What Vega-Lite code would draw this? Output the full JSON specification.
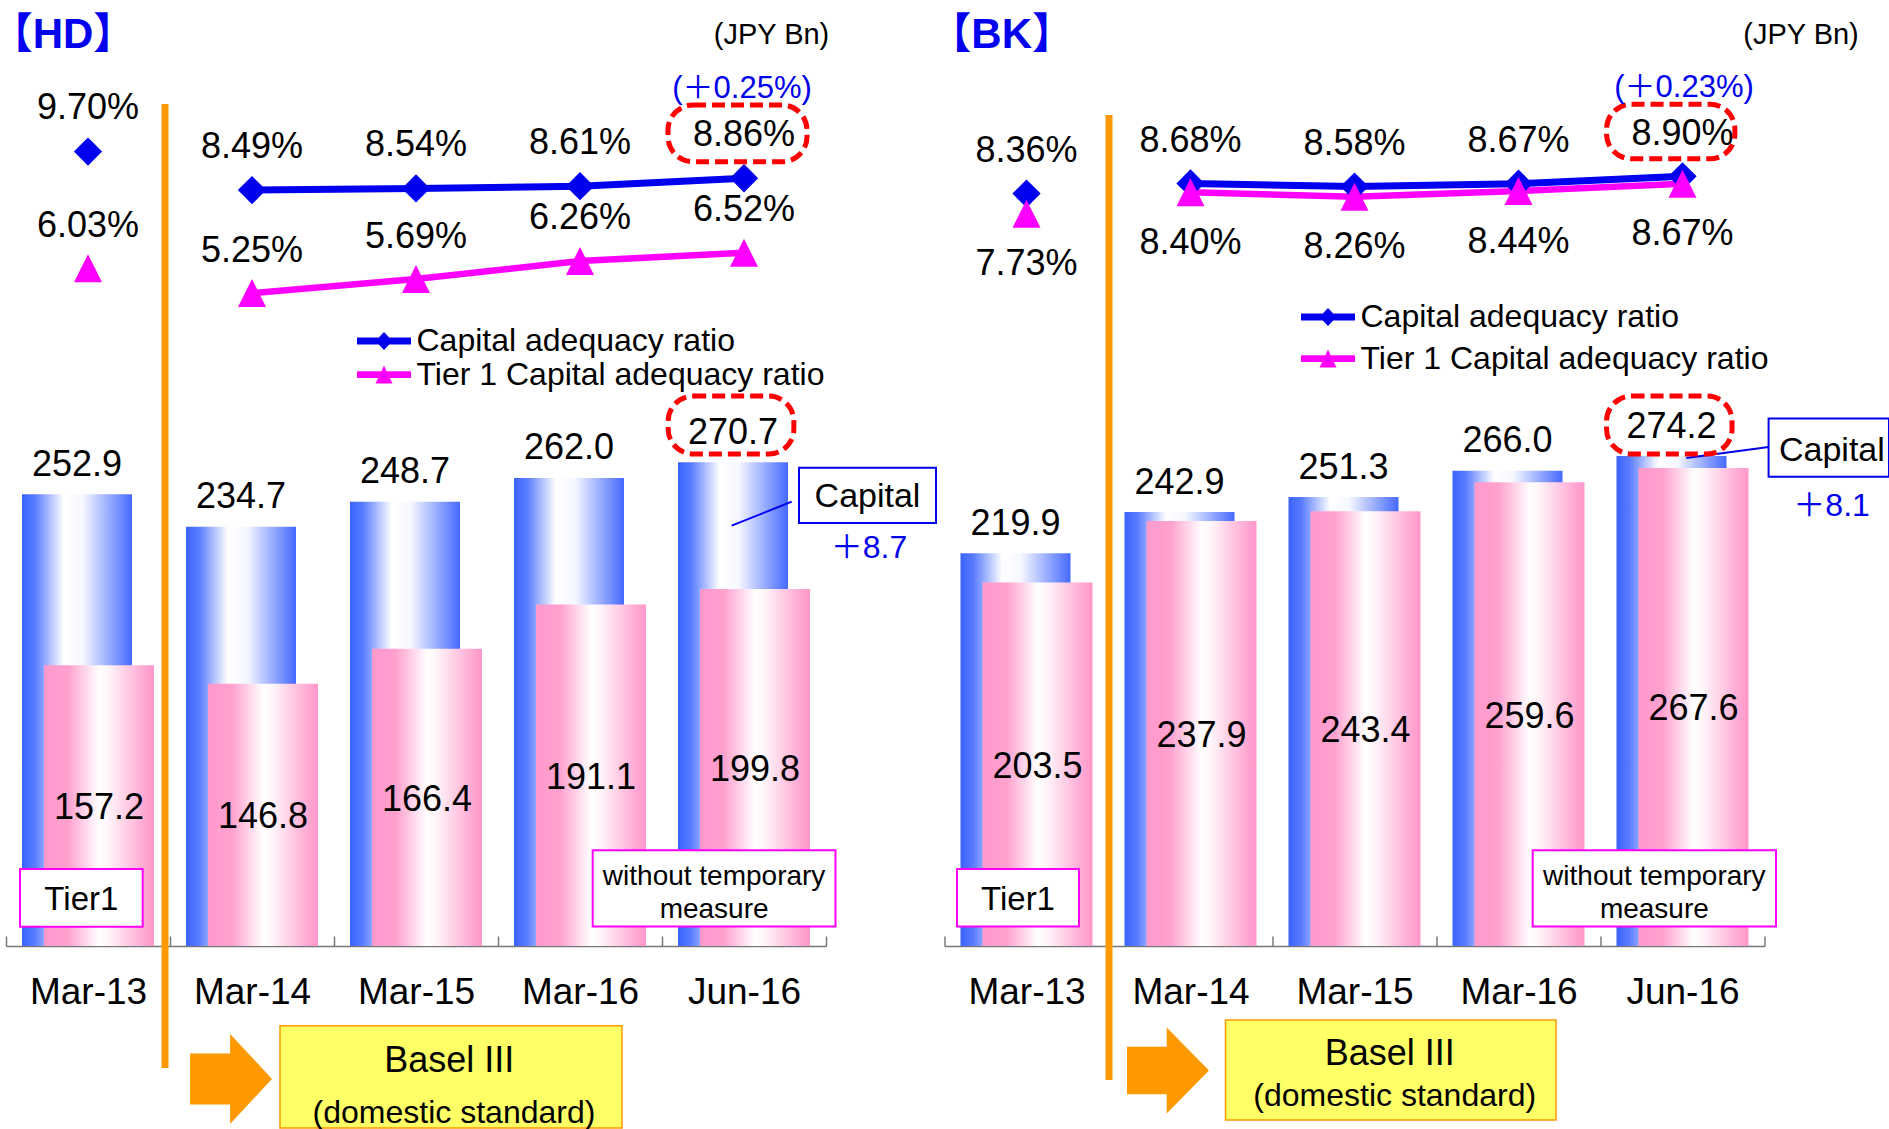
{
  "$schema": "https://vega.github.io/schema/vega-lite/v6.json",
  "padding": {"left": 5, "top": 0, "right": 0, "bottom": 0},
  "bounds": "flush",
  "spacing": 118.5,
  "config": {
    "font": "Liberation Sans, Noto Sans CJK JP, sans-serif",
    "view": {"stroke": null},
    "text": {"color": "#000000", "fontSize": 36, "baseline": "middle", "dy": 2.5},
    "axisX": {"labelAngle": 0, "labelFontSize": 37, "labelColor": "#000000", "labelPadding": 56.5, "labelBaseline": "middle", "domainColor": "#777777", "domainWidth": 1.5, "tickColor": "#777777", "tickWidth": 1.5, "tickSize": -10, "tickBand": "extent", "grid": false}
  },
  "datasets": {
    "hd_bars": [
      {"period": "Mar-13", "capital": 252.9, "tier1": 157.2},
      {"period": "Mar-14", "capital": 234.7, "tier1": 146.8},
      {"period": "Mar-15", "capital": 248.7, "tier1": 166.4},
      {"period": "Mar-16", "capital": 262.0, "tier1": 191.1},
      {"period": "Jun-16", "capital": 270.7, "tier1": 199.8}
    ],
    "bk_bars": [
      {"period": "Mar-13", "capital": 219.9, "tier1": 203.5},
      {"period": "Mar-14", "capital": 242.9, "tier1": 237.9},
      {"period": "Mar-15", "capital": 251.3, "tier1": 243.4},
      {"period": "Mar-16", "capital": 266.0, "tier1": 259.6},
      {"period": "Jun-16", "capital": 274.2, "tier1": 267.6}
    ],
    "hd_ratio": [
      {"period": "Mar-13", "series": "Capital adequacy ratio", "ratio": 0.0970},
      {"period": "Mar-14", "series": "Capital adequacy ratio", "ratio": 0.0849},
      {"period": "Mar-15", "series": "Capital adequacy ratio", "ratio": 0.0854},
      {"period": "Mar-16", "series": "Capital adequacy ratio", "ratio": 0.0861},
      {"period": "Jun-16", "series": "Capital adequacy ratio", "ratio": 0.0886},
      {"period": "Mar-13", "series": "Tier 1 Capital adequacy ratio", "ratio": 0.0603},
      {"period": "Mar-14", "series": "Tier 1 Capital adequacy ratio", "ratio": 0.0525},
      {"period": "Mar-15", "series": "Tier 1 Capital adequacy ratio", "ratio": 0.0569},
      {"period": "Mar-16", "series": "Tier 1 Capital adequacy ratio", "ratio": 0.0626},
      {"period": "Jun-16", "series": "Tier 1 Capital adequacy ratio", "ratio": 0.0652}
    ],
    "bk_ratio": [
      {"period": "Mar-13", "series": "Capital adequacy ratio", "ratio": 0.0836},
      {"period": "Mar-14", "series": "Capital adequacy ratio", "ratio": 0.0868},
      {"period": "Mar-15", "series": "Capital adequacy ratio", "ratio": 0.0858},
      {"period": "Mar-16", "series": "Capital adequacy ratio", "ratio": 0.0867},
      {"period": "Jun-16", "series": "Capital adequacy ratio", "ratio": 0.0890},
      {"period": "Mar-13", "series": "Tier 1 Capital adequacy ratio", "ratio": 0.0773},
      {"period": "Mar-14", "series": "Tier 1 Capital adequacy ratio", "ratio": 0.0840},
      {"period": "Mar-15", "series": "Tier 1 Capital adequacy ratio", "ratio": 0.0826},
      {"period": "Mar-16", "series": "Tier 1 Capital adequacy ratio", "ratio": 0.0844},
      {"period": "Jun-16", "series": "Tier 1 Capital adequacy ratio", "ratio": 0.0867}
    ]
  },
  "resolve": {
    "scale": {"color": "independent", "shape": "independent"},
    "legend": {"color": "independent", "shape": "independent"}
  },
  "hconcat": [
    {
      "width": 820,
      "height": 946,
      "resolve": {"scale": {"y": "independent"}},
      "layer": [
        {
          "data": {"name": "hd_bars"},
          "layer": [
            {
              "mark": {"type": "bar", "width": 110, "xOffset": -11, "fill": {"gradient": "linear", "x1": 0, "y1": 0, "x2": 1, "y2": 0, "stops": [{"offset": 0, "color": "#3a63ff"}, {"offset": 0.12, "color": "#5a7dff"}, {"offset": 0.38, "color": "#ffffff"}, {"offset": 0.55, "color": "#f6f8ff"}, {"offset": 1, "color": "#4569ff"}]}},
              "encoding": {
                "x": {"field": "period", "type": "nominal", "title": null, "scale": {"type": "band", "domain": ["Mar-13", "Mar-14", "Mar-15", "Mar-16", "Jun-16"], "paddingInner": 0, "paddingOuter": 0}},
                "y": {"field": "capital", "type": "quantitative", "scale": {"domain": [0, 529.5], "nice": false, "zero": false}, "axis": null}
              }
            },
            {
              "mark": {"type": "bar", "width": 110, "xOffset": 11, "fill": {"gradient": "linear", "x1": 0, "y1": 0, "x2": 1, "y2": 0, "stops": [{"offset": 0, "color": "#ff99cc"}, {"offset": 0.22, "color": "#ffa1cf"}, {"offset": 0.5, "color": "#ffffff"}, {"offset": 0.58, "color": "#fff6fa"}, {"offset": 0.95, "color": "#ff9fce"}, {"offset": 1, "color": "#ff99cc"}]}},
              "encoding": {
                "x": {"field": "period", "type": "nominal", "title": null},
                "y": {"field": "tier1", "type": "quantitative", "scale": {"domain": [0, 529.5], "nice": false, "zero": false}, "axis": null}
              }
            },
            {
              "mark": {"type": "text", "xOffset": -11, "dy": -29.5},
              "encoding": {
                "x": {"field": "period", "type": "nominal", "title": null},
                "y": {"field": "capital", "type": "quantitative", "scale": {"domain": [0, 529.5], "nice": false, "zero": false}, "axis": null},
                "text": {"field": "capital", "type": "quantitative", "format": ".1f"}
              }
            }
          ]
        },
        {
          "data": {"name": "hd_bars"},
          "mark": {"type": "text", "xOffset": 11},
          "encoding": {
            "x": {"field": "period", "type": "nominal", "title": null},
            "y": {"field": "tier1", "type": "quantitative", "scale": {"domain": [0, 1059], "nice": false, "zero": false}, "axis": null},
            "text": {"field": "tier1", "type": "quantitative", "format": ".1f"}
          }
        },
        {
          "data": {"name": "hd_ratio"},
          "layer": [
            {
              "transform": [{"filter": "datum.series === 'Tier 1 Capital adequacy ratio' && datum.period !== 'Mar-13'"}],
              "mark": {"type": "line", "color": "#ff00ff", "strokeWidth": 6.5},
              "encoding": {
                "x": {"field": "period", "type": "nominal", "title": null},
                "y": {"field": "ratio", "type": "quantitative", "scale": {"domain": [-0.1528, 0.14465], "nice": false, "zero": false}, "axis": null}
              }
            },
            {
              "transform": [{"filter": "datum.series === 'Capital adequacy ratio' && datum.period !== 'Mar-13'"}],
              "mark": {"type": "line", "color": "#0000ee", "strokeWidth": 7},
              "encoding": {
                "x": {"field": "period", "type": "nominal", "title": null},
                "y": {"field": "ratio", "type": "quantitative", "scale": {"domain": [-0.1528, 0.14465], "nice": false, "zero": false}, "axis": null}
              }
            },
            {
              "transform": [{"filter": "datum.series === 'Capital adequacy ratio'"}],
              "mark": {"type": "point", "shape": "diamond", "size": 800, "filled": true, "color": "#0000ee", "opacity": 1},
              "encoding": {
                "x": {"field": "period", "type": "nominal", "title": null},
                "y": {"field": "ratio", "type": "quantitative", "scale": {"domain": [-0.1528, 0.14465], "nice": false, "zero": false}, "axis": null}
              }
            },
            {
              "transform": [{"filter": "datum.series === 'Tier 1 Capital adequacy ratio'"}],
              "mark": {"type": "point", "shape": "M0,-1L1,1L-1,1Z", "size": 784, "filled": true, "color": "#ff00ff", "opacity": 1},
              "encoding": {
                "x": {"field": "period", "type": "nominal", "title": null},
                "y": {"field": "ratio", "type": "quantitative", "scale": {"domain": [-0.1528, 0.14465], "nice": false, "zero": false}, "axis": null}
              }
            },
            {
              "transform": [{"filter": "datum.series === 'Capital adequacy ratio'"}],
              "mark": {"type": "text", "dy": -43.5},
              "encoding": {
                "x": {"field": "period", "type": "nominal", "title": null},
                "y": {"field": "ratio", "type": "quantitative", "scale": {"domain": [-0.1528, 0.14465], "nice": false, "zero": false}, "axis": null},
                "text": {"field": "ratio", "type": "quantitative", "format": ".2%"}
              }
            },
            {
              "transform": [{"filter": "datum.series === 'Tier 1 Capital adequacy ratio'"}],
              "mark": {"type": "text", "dy": -42.5},
              "encoding": {
                "x": {"field": "period", "type": "nominal", "title": null},
                "y": {"field": "ratio", "type": "quantitative", "scale": {"domain": [-0.1528, 0.14465], "nice": false, "zero": false}, "axis": null},
                "text": {"field": "ratio", "type": "quantitative", "format": ".2%"}
              }
            },
            {
              "mark": {"type": "point", "filled": true, "opacity": 0},
              "encoding": {
                "x": {"field": "period", "type": "nominal", "title": null},
                "y": {"field": "ratio", "type": "quantitative", "scale": {"domain": [-0.1528, 0.14465], "nice": false, "zero": false}, "axis": null},
                "color": {"field": "series", "type": "nominal",
                  "scale": {"domain": ["Capital adequacy ratio", "Tier 1 Capital adequacy ratio"], "range": ["#0000ee", "#ff00ff"]},
                  "legend": {"title": null, "orient": "none", "legendX": 361, "legendY": 324, "padding": 0, "labelFontSize": 32, "labelColor": "#000000", "labelLimit": 800, "symbolSize": 1156, "symbolStrokeWidth": 0, "symbolOpacity": 1, "labelOffset": 15.5, "rowPadding": 0.6}},
                "shape": {"field": "series", "type": "nominal",
                  "scale": {"domain": ["Capital adequacy ratio", "Tier 1 Capital adequacy ratio"], "range": ["M-1.59,-0.2L1.59,-0.2L1.59,0.2L-1.59,0.2Z M0,-0.53L0.5,0L0,0.53L-0.5,0Z", "M-1.59,-0.2L1.59,-0.2L1.59,0.2L-1.59,0.2Z M0,-0.53L0.5,0.53L-0.5,0.53Z"]},
                  "legend": {"title": null, "orient": "none", "legendX": 361, "legendY": 324, "padding": 0, "labelFontSize": 32, "labelColor": "#000000", "labelLimit": 800, "symbolSize": 1156, "symbolStrokeWidth": 0, "symbolOpacity": 1, "labelOffset": 15.5, "rowPadding": 0.6}}
              }
            }
          ]
        },
        {
          "data": {"values": [{}]},
          "layer": [
            {
              "mark": {"type": "rule", "color": "#ff9900", "strokeWidth": 7, "xOffset": -87},
              "encoding": {
                "x": {"datum": "Mar-14", "type": "nominal", "title": null},
                "y": {"datum": 471.3, "type": "quantitative", "scale": {"domain": [0, 529.5], "nice": false, "zero": false}, "axis": null},
                "y2": {"datum": -68.3}
              }
            },
            {
              "mark": {"type": "bar", "width": 342, "xOffset": 35, "fill": "#ffff66", "stroke": "#ff9900", "strokeWidth": 1.5},
              "encoding": {
                "x": {"datum": "Mar-15", "type": "nominal", "title": null},
                "y": {"datum": -44.6, "type": "quantitative", "scale": {"domain": [0, 529.5], "nice": false, "zero": false}, "axis": null},
                "y2": {"datum": -101.9}
              }
            },
            {
              "mark": {"type": "text", "fontSize": 36, "xOffset": 33.3, "text": "Basel III"},
              "encoding": {
                "x": {"datum": "Mar-15", "type": "nominal", "title": null},
                "y": {"datum": -62.7, "type": "quantitative", "scale": {"domain": [0, 529.5], "nice": false, "zero": false}, "axis": null}
              }
            },
            {
              "mark": {"type": "text", "fontSize": 32, "xOffset": 38, "text": "(domestic standard)"},
              "encoding": {
                "x": {"datum": "Mar-15", "type": "nominal", "title": null},
                "y": {"datum": -91.8, "type": "quantitative", "scale": {"domain": [0, 529.5], "nice": false, "zero": false}, "axis": null}
              }
            },
            {
              "mark": {"type": "point", "shape": "M-0.91,-0.567L-0.02,-0.567L-0.02,-1L0.91,0L-0.02,1L-0.02,0.567L-0.91,0.567Z", "size": 8100, "filled": true, "color": "#ff9900", "opacity": 1, "xOffset": -21},
              "encoding": {
                "x": {"datum": "Mar-14", "type": "nominal", "title": null},
                "y": {"datum": -74.4, "type": "quantitative", "scale": {"domain": [0, 529.5], "nice": false, "zero": false}, "axis": null}
              }
            },
            {
              "mark": {"type": "bar", "width": 122.7, "xOffset": -6.65, "fill": "#ffffff", "stroke": "#ff00ff", "strokeWidth": 2},
              "encoding": {
                "x": {"datum": "Mar-13", "type": "nominal", "title": null},
                "y": {"datum": 43.1, "type": "quantitative", "scale": {"domain": [0, 529.5], "nice": false, "zero": false}, "axis": null},
                "y2": {"datum": 10.8}
              }
            },
            {
              "mark": {"type": "text", "fontSize": 33, "xOffset": -6.65, "text": "Tier1"},
              "encoding": {
                "x": {"datum": "Mar-13", "type": "nominal", "title": null},
                "y": {"datum": 27.0, "type": "quantitative", "scale": {"domain": [0, 529.5], "nice": false, "zero": false}, "axis": null}
              }
            },
            {
              "mark": {"type": "bar", "width": 242.8, "xOffset": -29.9, "fill": "#ffffff", "stroke": "#ff00ff", "strokeWidth": 2},
              "encoding": {
                "x": {"datum": "Jun-16", "type": "nominal", "title": null},
                "y": {"datum": 53.6, "type": "quantitative", "scale": {"domain": [0, 529.5], "nice": false, "zero": false}, "axis": null},
                "y2": {"datum": 10.9}
              }
            },
            {
              "mark": {"type": "text", "fontSize": 28, "lineHeight": 33.7, "xOffset": -29.9, "text": ["without temporary", "measure"]},
              "encoding": {
                "x": {"datum": "Jun-16", "type": "nominal", "title": null},
                "y": {"datum": 40.3, "type": "quantitative", "scale": {"domain": [0, 529.5], "nice": false, "zero": false}, "axis": null}
              }
            },
            {
              "mark": {"type": "rule", "color": "#0000ee", "strokeWidth": 2, "xOffset": -12.3, "x2Offset": 47.7},
              "encoding": {
                "x": {"datum": "Jun-16", "type": "nominal", "title": null},
                "x2": {"datum": "Jun-16"},
                "y": {"datum": 235.3, "type": "quantitative", "scale": {"domain": [0, 529.5], "nice": false, "zero": false}, "axis": null},
                "y2": {"datum": 248.7}
              }
            },
            {
              "mark": {"type": "bar", "width": 137, "xOffset": 123.5, "fill": "#ffffff", "stroke": "#0000ee", "strokeWidth": 2},
              "encoding": {
                "x": {"datum": "Jun-16", "type": "nominal", "title": null},
                "y": {"datum": 267.7, "type": "quantitative", "scale": {"domain": [0, 529.5], "nice": false, "zero": false}, "axis": null},
                "y2": {"datum": 236.8}
              }
            },
            {
              "mark": {"type": "text", "fontSize": 34, "xOffset": 123.5, "text": "Capital"},
              "encoding": {
                "x": {"datum": "Jun-16", "type": "nominal", "title": null},
                "y": {"datum": 252.7, "type": "quantitative", "scale": {"domain": [0, 529.5], "nice": false, "zero": false}, "axis": null}
              }
            },
            {
              "mark": {"type": "text", "fontSize": 32, "color": "#0000ee", "xOffset": 125, "text": "＋8.7"},
              "encoding": {
                "x": {"datum": "Jun-16", "type": "nominal", "title": null},
                "y": {"datum": 224.4, "type": "quantitative", "scale": {"domain": [0, 529.5], "nice": false, "zero": false}, "axis": null}
              }
            },
            {
              "mark": {"type": "bar", "width": 139, "xOffset": -6.5, "cornerRadius": 25, "fill": "#ffffff", "fillOpacity": 0, "stroke": "#ff0000", "strokeWidth": 5, "strokeDash": [13, 6]},
              "encoding": {
                "x": {"datum": "Jun-16", "type": "nominal", "title": null},
                "y": {"datum": 470.7, "type": "quantitative", "scale": {"domain": [0, 529.5], "nice": false, "zero": false}, "axis": null},
                "y2": {"datum": 439.0}
              }
            },
            {
              "mark": {"type": "bar", "width": 125.7, "xOffset": -13, "cornerRadius": 25, "fill": "#ffffff", "fillOpacity": 0, "stroke": "#ff0000", "strokeWidth": 5, "strokeDash": [13, 6]},
              "encoding": {
                "x": {"datum": "Jun-16", "type": "nominal", "title": null},
                "y": {"datum": 307.8, "type": "quantitative", "scale": {"domain": [0, 529.5], "nice": false, "zero": false}, "axis": null},
                "y2": {"datum": 275.4}
              }
            },
            {
              "mark": {"type": "text", "fontSize": 31, "color": "#0000ee", "xOffset": -2, "text": "(＋0.25%)"},
              "encoding": {
                "x": {"datum": "Jun-16", "type": "nominal", "title": null},
                "y": {"datum": 481.0, "type": "quantitative", "scale": {"domain": [0, 529.5], "nice": false, "zero": false}, "axis": null}
              }
            },
            {
              "mark": {"type": "text", "fontSize": 29, "xOffset": 27.5, "text": "(JPY Bn)"},
              "encoding": {
                "x": {"datum": "Jun-16", "type": "nominal", "title": null},
                "y": {"datum": 511.1, "type": "quantitative", "scale": {"domain": [0, 529.5], "nice": false, "zero": false}, "axis": null}
              }
            },
            {
              "mark": {"type": "text", "fontSize": 42, "fontWeight": "bold", "color": "#0000ee", "align": "left", "xOffset": -97.3, "clip": true, "text": "【HD】"},
              "encoding": {
                "x": {"datum": "Mar-13", "type": "nominal", "title": null},
                "y": {"datum": 511.3, "type": "quantitative", "scale": {"domain": [0, 529.5], "nice": false, "zero": false}, "axis": null}
              }
            }
          ]
        }
      ]
    },
    {
      "width": 820,
      "height": 946,
      "resolve": {"scale": {"y": "independent"}},
      "layer": [
        {
          "data": {"name": "bk_bars"},
          "layer": [
            {
              "mark": {"type": "bar", "width": 110, "xOffset": -11, "fill": {"gradient": "linear", "x1": 0, "y1": 0, "x2": 1, "y2": 0, "stops": [{"offset": 0, "color": "#3a63ff"}, {"offset": 0.12, "color": "#5a7dff"}, {"offset": 0.38, "color": "#ffffff"}, {"offset": 0.55, "color": "#f6f8ff"}, {"offset": 1, "color": "#4569ff"}]}},
              "encoding": {
                "x": {"field": "period", "type": "nominal", "title": null, "scale": {"type": "band", "domain": ["Mar-13", "Mar-14", "Mar-15", "Mar-16", "Jun-16"], "paddingInner": 0, "paddingOuter": 0}},
                "y": {"field": "capital", "type": "quantitative", "scale": {"domain": [0, 529.5], "nice": false, "zero": false}, "axis": null}
              }
            },
            {
              "mark": {"type": "bar", "width": 110, "xOffset": 11, "fill": {"gradient": "linear", "x1": 0, "y1": 0, "x2": 1, "y2": 0, "stops": [{"offset": 0, "color": "#ff99cc"}, {"offset": 0.22, "color": "#ffa1cf"}, {"offset": 0.5, "color": "#ffffff"}, {"offset": 0.58, "color": "#fff6fa"}, {"offset": 0.95, "color": "#ff9fce"}, {"offset": 1, "color": "#ff99cc"}]}},
              "encoding": {
                "x": {"field": "period", "type": "nominal", "title": null},
                "y": {"field": "tier1", "type": "quantitative", "scale": {"domain": [0, 529.5], "nice": false, "zero": false}, "axis": null}
              }
            },
            {
              "mark": {"type": "text", "xOffset": -11, "dy": -29.5},
              "encoding": {
                "x": {"field": "period", "type": "nominal", "title": null},
                "y": {"field": "capital", "type": "quantitative", "scale": {"domain": [0, 529.5], "nice": false, "zero": false}, "axis": null},
                "text": {"field": "capital", "type": "quantitative", "format": ".1f"}
              }
            }
          ]
        },
        {
          "data": {"name": "bk_bars"},
          "mark": {"type": "text", "xOffset": 11},
          "encoding": {
            "x": {"field": "period", "type": "nominal", "title": null},
            "y": {"field": "tier1", "type": "quantitative", "scale": {"domain": [0, 1059], "nice": false, "zero": false}, "axis": null},
            "text": {"field": "tier1", "type": "quantitative", "format": ".1f"}
          }
        },
        {
          "data": {"name": "bk_ratio"},
          "layer": [
            {
              "transform": [{"filter": "datum.series === 'Tier 1 Capital adequacy ratio' && datum.period !== 'Mar-13'"}],
              "mark": {"type": "line", "color": "#ff00ff", "strokeWidth": 6.5},
              "encoding": {
                "x": {"field": "period", "type": "nominal", "title": null},
                "y": {"field": "ratio", "type": "quantitative", "scale": {"domain": [-0.1515, 0.1441], "nice": false, "zero": false}, "axis": null}
              }
            },
            {
              "transform": [{"filter": "datum.series === 'Capital adequacy ratio' && datum.period !== 'Mar-13'"}],
              "mark": {"type": "line", "color": "#0000ee", "strokeWidth": 7},
              "encoding": {
                "x": {"field": "period", "type": "nominal", "title": null},
                "y": {"field": "ratio", "type": "quantitative", "scale": {"domain": [-0.1515, 0.1441], "nice": false, "zero": false}, "axis": null}
              }
            },
            {
              "transform": [{"filter": "datum.series === 'Capital adequacy ratio'"}],
              "mark": {"type": "point", "shape": "diamond", "size": 800, "filled": true, "color": "#0000ee", "opacity": 1},
              "encoding": {
                "x": {"field": "period", "type": "nominal", "title": null},
                "y": {"field": "ratio", "type": "quantitative", "scale": {"domain": [-0.1515, 0.1441], "nice": false, "zero": false}, "axis": null}
              }
            },
            {
              "transform": [{"filter": "datum.series === 'Tier 1 Capital adequacy ratio'"}],
              "mark": {"type": "point", "shape": "M0,-1L1,1L-1,1Z", "size": 784, "filled": true, "color": "#ff00ff", "opacity": 1},
              "encoding": {
                "x": {"field": "period", "type": "nominal", "title": null},
                "y": {"field": "ratio", "type": "quantitative", "scale": {"domain": [-0.1515, 0.1441], "nice": false, "zero": false}, "axis": null}
              }
            },
            {
              "transform": [{"filter": "datum.series === 'Capital adequacy ratio'"}],
              "mark": {"type": "text", "dy": -42.5},
              "encoding": {
                "x": {"field": "period", "type": "nominal", "title": null},
                "y": {"field": "ratio", "type": "quantitative", "scale": {"domain": [-0.1515, 0.1441], "nice": false, "zero": false}, "axis": null},
                "text": {"field": "ratio", "type": "quantitative", "format": ".2%"}
              }
            },
            {
              "transform": [{"filter": "datum.series === 'Tier 1 Capital adequacy ratio'"}],
              "mark": {"type": "text", "dy": 50.5},
              "encoding": {
                "x": {"field": "period", "type": "nominal", "title": null},
                "y": {"field": "ratio", "type": "quantitative", "scale": {"domain": [-0.1515, 0.1441], "nice": false, "zero": false}, "axis": null},
                "text": {"field": "ratio", "type": "quantitative", "format": ".2%"}
              }
            },
            {
              "mark": {"type": "point", "filled": true, "opacity": 0},
              "encoding": {
                "x": {"field": "period", "type": "nominal", "title": null},
                "y": {"field": "ratio", "type": "quantitative", "scale": {"domain": [-0.1515, 0.1441], "nice": false, "zero": false}, "axis": null},
                "color": {"field": "series", "type": "nominal",
                  "scale": {"domain": ["Capital adequacy ratio", "Tier 1 Capital adequacy ratio"], "range": ["#0000ee", "#ff00ff"]},
                  "legend": {"title": null, "orient": "none", "legendX": 366.5, "legendY": 300, "padding": 0, "labelFontSize": 32, "labelColor": "#000000", "labelLimit": 800, "symbolSize": 1156, "symbolStrokeWidth": 0, "symbolOpacity": 1, "labelOffset": 15.5, "rowPadding": 8.6}},
                "shape": {"field": "series", "type": "nominal",
                  "scale": {"domain": ["Capital adequacy ratio", "Tier 1 Capital adequacy ratio"], "range": ["M-1.59,-0.2L1.59,-0.2L1.59,0.2L-1.59,0.2Z M0,-0.53L0.5,0L0,0.53L-0.5,0Z", "M-1.59,-0.2L1.59,-0.2L1.59,0.2L-1.59,0.2Z M0,-0.53L0.5,0.53L-0.5,0.53Z"]},
                  "legend": {"title": null, "orient": "none", "legendX": 366.5, "legendY": 300, "padding": 0, "labelFontSize": 32, "labelColor": "#000000", "labelLimit": 800, "symbolSize": 1156, "symbolStrokeWidth": 0, "symbolOpacity": 1, "labelOffset": 15.5, "rowPadding": 8.6}}
              }
            }
          ]
        },
        {
          "data": {"values": [{}]},
          "layer": [
            {
              "mark": {"type": "rule", "color": "#ff9900", "strokeWidth": 7, "xOffset": -81.5},
              "encoding": {
                "x": {"datum": "Mar-14", "type": "nominal", "title": null},
                "y": {"datum": 465.1, "type": "quantitative", "scale": {"domain": [0, 529.5], "nice": false, "zero": false}, "axis": null},
                "y2": {"datum": -75.0}
              }
            },
            {
              "mark": {"type": "bar", "width": 330.5, "xOffset": 36.25, "fill": "#ffff66", "stroke": "#ff9900", "strokeWidth": 1.5},
              "encoding": {
                "x": {"datum": "Mar-15", "type": "nominal", "title": null},
                "y": {"datum": -41.4, "type": "quantitative", "scale": {"domain": [0, 529.5], "nice": false, "zero": false}, "axis": null},
                "y2": {"datum": -97.4}
              }
            },
            {
              "mark": {"type": "text", "fontSize": 36, "xOffset": 35.3, "text": "Basel III"},
              "encoding": {
                "x": {"datum": "Mar-15", "type": "nominal", "title": null},
                "y": {"datum": -59.3, "type": "quantitative", "scale": {"domain": [0, 529.5], "nice": false, "zero": false}, "axis": null}
              }
            },
            {
              "mark": {"type": "text", "fontSize": 32, "xOffset": 40.2, "text": "(domestic standard)"},
              "encoding": {
                "x": {"datum": "Mar-15", "type": "nominal", "title": null},
                "y": {"datum": -82.8, "type": "quantitative", "scale": {"domain": [0, 529.5], "nice": false, "zero": false}, "axis": null}
              }
            },
            {
              "mark": {"type": "point", "shape": "M-0.953,-0.553L-0.03,-0.553L-0.03,-1L0.953,0L-0.03,1L-0.03,0.553L-0.953,0.553Z", "size": 7396, "filled": true, "color": "#ff9900", "opacity": 1, "xOffset": -22.5},
              "encoding": {
                "x": {"datum": "Mar-14", "type": "nominal", "title": null},
                "y": {"datum": -69.7, "type": "quantitative", "scale": {"domain": [0, 529.5], "nice": false, "zero": false}, "axis": null}
              }
            },
            {
              "mark": {"type": "bar", "width": 122, "xOffset": -8.5, "fill": "#ffffff", "stroke": "#ff00ff", "strokeWidth": 2},
              "encoding": {
                "x": {"datum": "Mar-13", "type": "nominal", "title": null},
                "y": {"datum": 43.1, "type": "quantitative", "scale": {"domain": [0, 529.5], "nice": false, "zero": false}, "axis": null},
                "y2": {"datum": 10.9}
              }
            },
            {
              "mark": {"type": "text", "fontSize": 33, "xOffset": -8.5, "text": "Tier1"},
              "encoding": {
                "x": {"datum": "Mar-13", "type": "nominal", "title": null},
                "y": {"datum": 27.0, "type": "quantitative", "scale": {"domain": [0, 529.5], "nice": false, "zero": false}, "axis": null}
              }
            },
            {
              "mark": {"type": "bar", "width": 243.3, "xOffset": -28.15, "fill": "#ffffff", "stroke": "#ff00ff", "strokeWidth": 2},
              "encoding": {
                "x": {"datum": "Jun-16", "type": "nominal", "title": null},
                "y": {"datum": 53.6, "type": "quantitative", "scale": {"domain": [0, 529.5], "nice": false, "zero": false}, "axis": null},
                "y2": {"datum": 10.9}
              }
            },
            {
              "mark": {"type": "text", "fontSize": 28, "lineHeight": 33.7, "xOffset": -28.15, "text": ["without temporary", "measure"]},
              "encoding": {
                "x": {"datum": "Jun-16", "type": "nominal", "title": null},
                "y": {"datum": 40.3, "type": "quantitative", "scale": {"domain": [0, 529.5], "nice": false, "zero": false}, "axis": null}
              }
            },
            {
              "mark": {"type": "rule", "color": "#0000ee", "strokeWidth": 2, "xOffset": 3.9, "x2Offset": 86.1},
              "encoding": {
                "x": {"datum": "Jun-16", "type": "nominal", "title": null},
                "x2": {"datum": "Jun-16"},
                "y": {"datum": 273.1, "type": "quantitative", "scale": {"domain": [0, 529.5], "nice": false, "zero": false}, "axis": null},
                "y2": {"datum": 279.3}
              }
            },
            {
              "mark": {"type": "bar", "width": 120.4, "xOffset": 146.3, "fill": "#ffffff", "stroke": "#0000ee", "strokeWidth": 2},
              "encoding": {
                "x": {"datum": "Jun-16", "type": "nominal", "title": null},
                "y": {"datum": 295.3, "type": "quantitative", "scale": {"domain": [0, 529.5], "nice": false, "zero": false}, "axis": null},
                "y2": {"datum": 262.7}
              }
            },
            {
              "mark": {"type": "text", "fontSize": 34, "align": "left", "xOffset": 96.5, "text": "Capital"},
              "encoding": {
                "x": {"datum": "Jun-16", "type": "nominal", "title": null},
                "y": {"datum": 278.7, "type": "quantitative", "scale": {"domain": [0, 529.5], "nice": false, "zero": false}, "axis": null}
              }
            },
            {
              "mark": {"type": "text", "fontSize": 32, "color": "#0000ee", "xOffset": 149.1, "text": "＋8.1"},
              "encoding": {
                "x": {"datum": "Jun-16", "type": "nominal", "title": null},
                "y": {"datum": 247.7, "type": "quantitative", "scale": {"domain": [0, 529.5], "nice": false, "zero": false}, "axis": null}
              }
            },
            {
              "mark": {"type": "bar", "width": 128.3, "xOffset": -11.8, "cornerRadius": 25, "fill": "#ffffff", "fillOpacity": 0, "stroke": "#ff0000", "strokeWidth": 5, "strokeDash": [13, 6]},
              "encoding": {
                "x": {"datum": "Jun-16", "type": "nominal", "title": null},
                "y": {"datum": 471.2, "type": "quantitative", "scale": {"domain": [0, 529.5], "nice": false, "zero": false}, "axis": null},
                "y2": {"datum": 440.6}
              }
            },
            {
              "mark": {"type": "bar", "width": 125.5, "xOffset": -13.2, "cornerRadius": 25, "fill": "#ffffff", "fillOpacity": 0, "stroke": "#ff0000", "strokeWidth": 5, "strokeDash": [13, 6]},
              "encoding": {
                "x": {"datum": "Jun-16", "type": "nominal", "title": null},
                "y": {"datum": 307.8, "type": "quantitative", "scale": {"domain": [0, 529.5], "nice": false, "zero": false}, "axis": null},
                "y2": {"datum": 275.4}
              }
            },
            {
              "mark": {"type": "text", "fontSize": 31, "color": "#0000ee", "xOffset": 1.5, "text": "(＋0.23%)"},
              "encoding": {
                "x": {"datum": "Jun-16", "type": "nominal", "title": null},
                "y": {"datum": 481.5, "type": "quantitative", "scale": {"domain": [0, 529.5], "nice": false, "zero": false}, "axis": null}
              }
            },
            {
              "mark": {"type": "text", "fontSize": 29, "xOffset": 118.5, "text": "(JPY Bn)"},
              "encoding": {
                "x": {"datum": "Jun-16", "type": "nominal", "title": null},
                "y": {"datum": 511.1, "type": "quantitative", "scale": {"domain": [0, 529.5], "nice": false, "zero": false}, "axis": null}
              }
            },
            {
              "mark": {"type": "text", "fontSize": 42, "fontWeight": "bold", "color": "#0000ee", "align": "left", "xOffset": -97.2, "clip": true, "text": "【BK】"},
              "encoding": {
                "x": {"datum": "Mar-13", "type": "nominal", "title": null},
                "y": {"datum": 511.3, "type": "quantitative", "scale": {"domain": [0, 529.5], "nice": false, "zero": false}, "axis": null}
              }
            }
          ]
        }
      ]
    }
  ]
}
